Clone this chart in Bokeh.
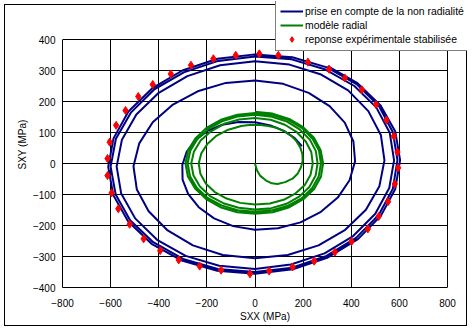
from bokeh.plotting import figure
from bokeh.models import (Range1d, FixedTicker, Legend, LegendItem, InlineStyleSheet)
from bokeh.embed import file_html
from bokeh.resources import INLINE

# ---- data (MPa) ----
x_ticks = [-800, -600, -400, -200, 0, 200, 400, 600, 800]
y_ticks = [-400, -300, -200, -100, 0, 100, 200, 300, 400]

# blue: "prise en compte de la non radialité" (spiral, counter-clockwise)
blue_x = [195, 165, 120, 64, 0, -68, -136, -197, -248, -284, -302,
          -301, -278, -234, -170, -91, 0, 95, 189, 274, 344, 393, 416,
          409, 373, 310, 223, 117, 0, -121, -238, -341, -425, -481, -505,
          -491, -442, -363, -258, -134, 0, 136, 264, 375, 461, 517, 538,
          523, 471, 387, 275, 143, 0, -145, -281, -400, -493, -553, -575,
          -556, -498, -407, -288, -149, 0, 149, 289, 408, 500, 558, 578,
          560, 504, 413, 293, 152, 0, -153, -296, -420, -516, -578, -600,
          -579, -519, -423, -299, -155, 0, 154, 297, 420, 514, 573, 592,
          573, 515, 422, 299, 155, 0, -156, -302, -428, -526, -588, -610,
          -589, -527, -430, -304, -157, 0, 157, 303, 428, 523, 583, 603,
          583, 522, 426, 302]
blue_y = [56, 82, 105, 123, 133, 134, 125, 105, 76, 38, -5,
          -52, -98, -141, -177, -202, -214, -209, -190, -156, -110, -54, 7,
          71, 132, 185, 228, 257, 268, 260, 233, 190, 133, 65, -9,
          -84, -154, -216, -264, -295, -306, -295, -264, -214, -149, -73, 10,
          92, 169, 236, 287, 319, 330, 317, 282, 228, 158, 77, -10,
          -97, -177, -246, -298, -330, -340, -326, -290, -234, -162, -79, 10,
          99, 181, 250, 303, 336, 345, 331, 294, 238, 164, 80, -10,
          -100, -183, -254, -308, -340, -350, -336, -298, -240, -166, -81, 11,
          101, 185, 256, 310, 343, 352, 338, 300, 242, 168, 81, -11,
          -102, -187, -259, -313, -346, -356, -341, -303, -244, -169, -82, 11,
          103, 187, 259, 314]

# green: "modèle radial" (spiral from the origin)
green_x = [0, 8, 22, 46, 70, 94, 125, 156, 178, 191, 198, 197, 188, 172, 150,
           122, 90, 55, 22, -17,
           -57, -111, -159, -197, -223, -234, -227, -204, -167, -118, -61, 0,
           62, 119, 169, 207, 231, 240, 234, 211, 174, 124, 65, 0,
           -66, -128, -183, -226, -254, -265, -256, -229, -187, -132, -68, 0,
           68, 131, 185, 226, 252, 260, 253, 228, 187, 133, 70, 0,
           -70, -137, -194, -240, -269, -280, -270, -242, -197, -139, -72, 0,
           72, 138, 195, 238, 265, 274, 266, 239, 196, 140, 73, 0,
           -73, -142, -202, -248, -278, -289, -279, -249, -203, -144, -74, 0,
           74, 143, 201, 246, 274, 283, 273, 245, 200, 142, 73, 0]
green_y = [0, -22, -40, -55, -64, -66, -60, -49, -32, -12, 8, 30, 52, 72, 90,
           104, 115, 121, 124, 125,
           121, 109, 90, 64, 33, 0, -33, -65, -92, -113, -127, -132,
           -129, -117, -96, -69, -36, 0, 37, 71, 101, 125, 141, 147,
           142, 128, 104, 74, 38, 0, -38, -74, -105, -128, -143, -148,
           -144, -130, -106, -76, -39, 0, 40, 77, 109, 135, 151, 157,
           152, 136, 111, 78, 41, 0, -41, -78, -111, -135, -151, -156,
           -151, -136, -112, -79, -41, 0, 42, 80, 114, 140, 157, 163,
           157, 141, 115, 81, 42, 0, -42, -81, -115, -141, -157, -162,
           -157, -141, -115, -82, -43, 0, 43, 83, 117, 144, 161, 167]

# red: "reponse expérimentale stabilisée"
exp_x = [-80, 18, 97, 220, 308, 373, 444, 503, 546, 577, 592, 595, 581, 553,
         514, 469, 401, 332, 246, 156, 59, -21, -141, -230, -317, -394, -463,
         -521, -568, -596, -613, -613, -604, -577, -538, -485, -425, -350,
         -266, -173]
exp_y = [349, 354, 349, 327, 304, 276, 238, 190, 140, 88, 37, -14, -66, -123,
         -171, -211, -252, -286, -315, -334, -347, -356, -344, -331, -311,
         -281, -243, -196, -146, -95, -39, 16, 69, 123, 171, 216, 255, 289,
         317, 338]

labels = ["prise en compte de la non radialit\u00e9", "mod\u00e8le radial",
          "reponse exp\u00e9rimentale stabilis\u00e9e"]

FONT = "Liberation Sans"

# plot area: x -800..800 -> px 62..447, y -400..400 -> px 287..39;
# the frame is extended to the right/top so the legend can overlap the corner
X_END = 800 + 20 * 1600 / 385
Y_END = 400 + 38 * 800 / 248

css = """
:host { position: relative; }
:host::before { content: ""; position: absolute; left: 4px; top: 4px;
  width: 461px; height: 320px; border: 1px solid black; z-index: -1; }
"""

p = figure(width=472, height=330, x_range=Range1d(-800, X_END), y_range=Range1d(-400, Y_END),
           output_backend="svg", toolbar_location=None,
           min_border_left=62, min_border_right=5, min_border_top=1, min_border_bottom=43,
           stylesheets=[InlineStyleSheet(css=css)])
p.background_fill_color = None
p.border_fill_color = None
p.outline_line_color = None

for ax in (p.xaxis[0], p.yaxis[0]):
    ax.major_label_text_font = FONT
    ax.major_label_text_font_size = "10px"
    ax.major_label_text_color = "black"
    ax.axis_label_text_font = FONT
    ax.axis_label_text_font_size = "10px"
    ax.axis_label_text_font_style = "normal"
    ax.axis_label_text_color = "black"
    ax.axis_line_color = "black"
    ax.major_tick_in = 0
    ax.major_tick_out = 0
    ax.minor_tick_line_color = None

p.xaxis.ticker = FixedTicker(ticks=x_ticks)
p.yaxis.ticker = FixedTicker(ticks=y_ticks)
p.xaxis.bounds = (x_ticks[0], x_ticks[-1])
p.yaxis.bounds = (y_ticks[0], y_ticks[-1])
p.xaxis.axis_label = "SXX (MPa)"
p.yaxis.axis_label = "SXY (MPa)"
p.xaxis.major_label_standoff = 11
p.yaxis.major_label_standoff = 7
p.xaxis.axis_label_standoff = 1
p.yaxis.axis_label_standoff = 2

p.xgrid.ticker = FixedTicker(ticks=x_ticks)
p.ygrid.ticker = FixedTicker(ticks=y_ticks)
p.xgrid.cross_bounds = (y_ticks[0], y_ticks[-1])
p.ygrid.cross_bounds = (x_ticks[0], x_ticks[-1])
for g in (p.xgrid[0], p.ygrid[0]):
    g.grid_line_color = "black"
    g.grid_line_alpha = 1
    g.grid_line_width = 1

r_blue = p.line(blue_x, blue_y, line_color="#000080", line_width=2)
r_green = p.line(green_x, green_y, line_color="#008000", line_width=2)
r_red = p.scatter(exp_x, exp_y, marker="diamond", size=8,
                  fill_color="#FF0000", line_color="#FF0000")

legend = Legend(items=[LegendItem(label=labels[0], renderers=[r_blue]),
                       LegendItem(label=labels[1], renderers=[r_green]),
                       LegendItem(label=labels[2], renderers=[r_red])],
                location=(213, 236))
legend.label_text_font = FONT
legend.label_text_font_size = "10.4px"
legend.label_text_color = "black"
legend.border_line_color = "black"
legend.border_line_width = 1
legend.background_fill_color = "white"
legend.background_fill_alpha = 1
legend.padding = 4
legend.spacing = 0
legend.margin = 0
legend.glyph_width = 23
legend.glyph_height = 14
legend.label_height = 14
legend.label_width = 158
legend.label_standoff = 2
p.add_layout(legend)

open("out.html", "w").write(file_html(p, INLINE))
